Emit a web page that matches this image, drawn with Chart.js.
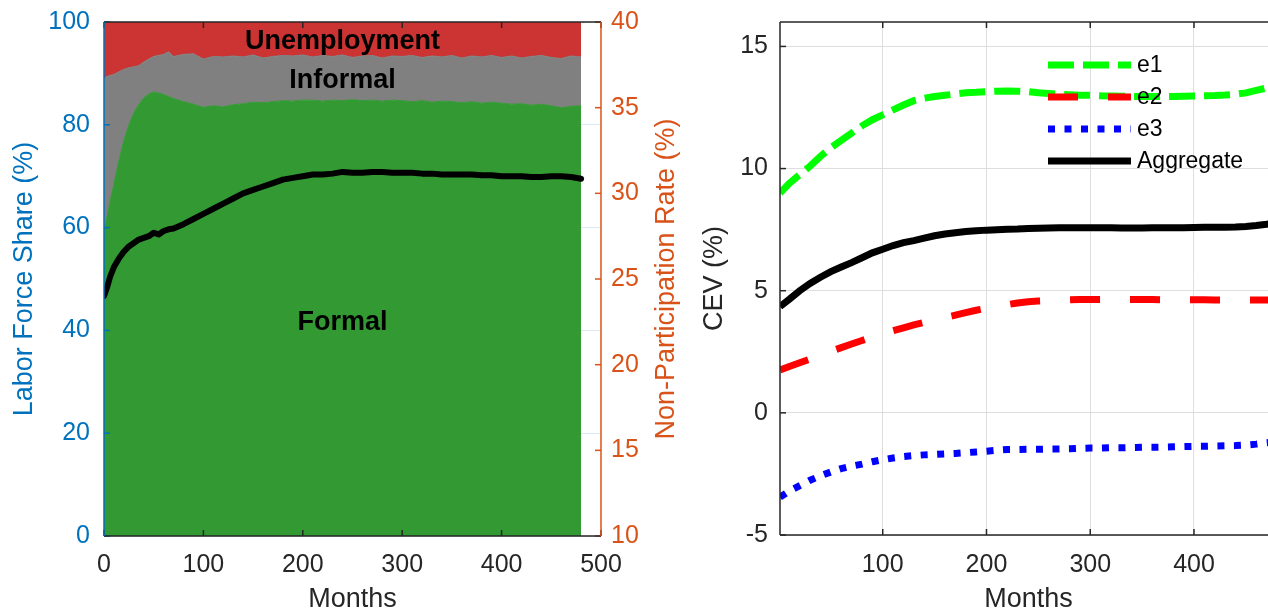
<!DOCTYPE html>
<html>
<head>
<meta charset="utf-8">
<script src="https://cdn.jsdelivr.net/npm/chart.js@4.4.1/dist/chart.umd.min.js"></script>
<style>
  html, body { margin: 0; padding: 0; background: #fff; overflow: hidden; width: 1268px; height: 610px; }
  #left { position: absolute; left: 0; top: 0; }
  #right { position: absolute; left: 690px; top: 0; }
</style>
</head>
<body>
<canvas id="left" width="690" height="620"></canvas>
<canvas id="right" width="600" height="620"></canvas>
<script>
// ---- left panel: labour force shares (%) and non-participation rate (%) by month
const leftMonths = [0, 3, 6, 10, 15, 20, 25, 30, 35, 40, 45, 50, 55, 60, 65, 70,
  80, 90, 100, 110, 120, 130, 140, 150, 160, 170, 180, 190, 200, 210, 220, 230, 240, 250,
  260, 270, 280, 290, 300, 310, 320, 330, 340, 350, 360, 370, 380, 390, 400, 410, 420,
  430, 440, 450, 460, 470, 480];
const formalShare = [59, 62, 65, 68.5, 73, 77, 80, 82.3, 84, 85.2, 86, 86.4, 86.2, 85.9, 85.5, 85.1,
  84.5, 84.0, 83.4, 83.7, 83.5, 83.9, 84.1, 84.4, 84.3, 84.5, 84.7, 84.6, 84.8, 84.8, 84.6, 84.8, 84.7, 84.9,
  84.7, 84.8, 84.6, 84.8, 84.7, 84.5, 84.7, 84.4, 84.6, 84.5, 84.3, 84.5, 84.2, 84.4, 84.2, 84.0, 84.1,
  83.8, 84.0, 83.7, 83.3, 83.6, 83.7];
const informalShare = [30.0, 27.4, 24.6, 21.3, 17.3, 13.8, 11.1, 9.0, 7.5, 7.0, 6.8, 6.9, 7.3, 7.8, 8.7, 8.2,
  9.2, 9.8, 9.4, 9.6, 9.7, 9.5, 9.1, 9.2, 8.7, 8.8, 8.8, 8.8, 8.8, 8.4, 8.9, 8.5, 8.9, 8.2,
  8.7, 8.7, 8.4, 8.6, 8.6, 9.0, 8.4, 9.0, 8.6, 9.0, 8.7, 8.9, 9.0, 9.1, 8.9, 9.4, 8.9,
  9.5, 9.5, 9.4, 9.6, 9.8, 9.5];
const unemploymentShare = [11.0, 10.6, 10.4, 10.2, 9.7, 9.2, 8.9, 8.7, 8.5, 7.8, 7.2, 6.7, 6.5, 6.3, 5.8, 6.7,
  6.3, 6.2, 7.2, 6.7, 6.8, 6.6, 6.8, 6.4, 7.0, 6.7, 6.5, 6.6, 6.4, 6.8, 6.5, 6.7, 6.4, 6.9,
  6.6, 6.5, 7.0, 6.6, 6.7, 6.5, 6.9, 6.6, 6.8, 6.5, 7.0, 6.6, 6.8, 6.5, 6.9, 6.6, 7.0,
  6.7, 6.5, 6.9, 7.1, 6.6, 6.8];
const nonParticipation = [24.0, 24.5, 25.1, 25.7, 26.2, 26.6, 26.9, 27.1, 27.3, 27.4, 27.5, 27.7, 27.6, 27.8, 27.9, 27.95,
  28.2, 28.5, 28.8, 29.1, 29.4, 29.7, 30.0, 30.2, 30.4, 30.6, 30.8, 30.9, 31.0, 31.1, 31.1, 31.15, 31.25, 31.2,
  31.2, 31.25, 31.25, 31.2, 31.2, 31.2, 31.15, 31.15, 31.1, 31.1, 31.1, 31.1, 31.05, 31.05, 31.0, 31.0, 31.0,
  30.95, 30.95, 31.0, 31.0, 30.95, 30.85];

// ---- right panel: CEV (%) by month
const cevMonths = [1, 10, 20, 30, 40, 50, 60, 70, 80, 90, 100, 110, 120, 130, 140, 150, 160, 170, 180, 190,
  200, 210, 220, 230, 240, 250, 260, 270, 280, 290, 300, 310, 320, 330, 340, 350, 360, 370, 380, 390,
  400, 410, 420, 430, 440, 450, 460, 470, 480];
const cevE1 = [9.0, 9.4, 9.75, 10.1, 10.5, 10.85, 11.15, 11.45, 11.75, 12.0,
  12.2, 12.4, 12.6, 12.78, 12.88, 12.95, 13.0, 13.05, 13.1, 13.12,
  13.15, 13.17, 13.18, 13.17, 13.15, 13.1, 13.07, 13.04, 13.02, 13.0,
  13.0, 12.98, 12.97, 12.96, 12.95, 12.95, 12.95, 12.95, 12.95, 12.96,
  12.97, 12.98, 12.99, 13.01, 13.04, 13.1, 13.2, 13.3, 13.4];
const cevE2 = [1.75, 1.9, 2.05, 2.2, 2.37, 2.52, 2.67, 2.82, 2.96, 3.1,
  3.23, 3.36, 3.48, 3.6, 3.7, 3.8, 3.9, 4.0, 4.1, 4.2,
  4.28, 4.36, 4.43, 4.5, 4.55, 4.58, 4.6, 4.62, 4.63, 4.64,
  4.64, 4.64, 4.64, 4.64, 4.64, 4.64, 4.64, 4.63, 4.63, 4.63,
  4.63, 4.63, 4.62, 4.62, 4.62, 4.62, 4.62, 4.62, 4.62];
const cevE3 = [-3.45, -3.2, -2.98, -2.76, -2.58, -2.42, -2.28, -2.18, -2.1, -2.0,
  -1.92, -1.85, -1.79, -1.75, -1.72, -1.7, -1.68, -1.66, -1.63, -1.6,
  -1.57, -1.53, -1.5, -1.5, -1.49, -1.49, -1.48, -1.48, -1.47, -1.45,
  -1.44, -1.44, -1.43, -1.43, -1.42, -1.41, -1.41, -1.4, -1.39, -1.38,
  -1.37, -1.37, -1.36, -1.35, -1.34, -1.32, -1.28, -1.22, -1.18];
const cevAggregate = [4.35, 4.65, 5.0, 5.3, 5.55, 5.78, 5.97, 6.15, 6.35, 6.55,
  6.7, 6.85, 6.97, 7.05, 7.15, 7.25, 7.32, 7.37, 7.42, 7.45,
  7.48, 7.5, 7.52, 7.53, 7.55, 7.56, 7.57, 7.58, 7.58, 7.58,
  7.58, 7.58, 7.58, 7.57, 7.57, 7.57, 7.58, 7.58, 7.58, 7.58,
  7.59, 7.6, 7.6, 7.6, 7.61, 7.63, 7.67, 7.72, 7.78];

const FONT = "'Liberation Sans', Arial, Helvetica, sans-serif";
const BLUE = '#0072BD', ORANGE = '#D95319', DARK = '#262626';

const pts = (xs, ys) => xs.map((x, i) => ({ x: x, y: ys[i] }));
const keepEvery = step => s => { s.ticks = s.ticks.filter(t => Math.abs(t.value % step) < 1e-9); };
// fixed axis sizes so the plot boxes land where the original's do
const fixWidth = w => s => { s.width = w; s.paddingTop = 0; s.paddingBottom = 0; };
const fixHeight = h => s => { s.height = h; s.paddingLeft = 0; s.paddingRight = 0; };

// matlab-style box with inward ticks, drawn over the data
function framePlugin(colors) {
  return {
    id: 'frame',
    afterDatasetsDraw(chart) {
      const { ctx, chartArea: a, scales } = chart;
      const T = 6;
      const seg = (x1, y1, x2, y2, c) => {
        ctx.strokeStyle = c;
        ctx.beginPath(); ctx.moveTo(x1, y1); ctx.lineTo(x2, y2); ctx.stroke();
      };
      ctx.save();
      ctx.lineWidth = 1.5;
      scales.x.ticks.forEach(t => {
        const p = scales.x.getPixelForValue(t.value);
        seg(p, a.bottom, p, a.bottom - T, colors.bottom);
        seg(p, a.top, p, a.top + T, colors.top);
      });
      scales.y.ticks.forEach(t => {
        const p = scales.y.getPixelForValue(t.value);
        seg(a.left, p, a.left + T, p, colors.left);
      });
      if (scales.y2) {
        scales.y2.ticks.forEach(t => {
          const p = scales.y2.getPixelForValue(t.value);
          seg(a.right, p, a.right - T, p, colors.right);
        });
      }
      seg(a.left, a.top, a.right, a.top, colors.top);
      seg(a.left, a.bottom, a.right, a.bottom, colors.bottom);
      seg(a.left, a.top, a.left, a.bottom, colors.left);
      seg(a.right, a.top, a.right, a.bottom, colors.right);
      ctx.restore();
    }
  };
}

const areaLabels = [
  { text: 'Unemployment', x: 240, y: 96.1 },
  { text: 'Informal', x: 240, y: 88.6 },
  { text: 'Formal', x: 240, y: 41.5 }
];

const leftExtras = {
  id: 'leftExtras',
  afterDatasetsDraw(chart) {
    const { ctx, scales } = chart;
    ctx.save();
    ctx.fillStyle = '#000';
    ctx.font = 'bold 27px ' + FONT;
    ctx.textAlign = 'center';
    ctx.textBaseline = 'middle';
    areaLabels.forEach(l => {
      ctx.fillText(l.text, scales.x.getPixelForValue(l.x), scales.y.getPixelForValue(l.y));
    });
    // right axis title reads bottom-to-top like the left one
    ctx.translate(667, (chart.chartArea.top + chart.chartArea.bottom) / 2);
    ctx.rotate(-Math.PI / 2);
    ctx.fillStyle = ORANGE;
    ctx.font = '27px ' + FONT;
    ctx.fillText('Non-Participation Rate (%)', 0, 0);
    ctx.restore();
  }
};

const tickFont = { family: FONT, size: 25 };
const titleFont = { family: FONT, size: 27, lineHeight: 1 };

new Chart(document.getElementById('left'), {
  type: 'line',
  data: {
    datasets: [
      { label: 'Non-Participation Rate', data: pts(leftMonths, nonParticipation), yAxisID: 'y2',
        borderColor: '#000', borderWidth: 6, borderJoinStyle: 'round', borderCapStyle: 'round', fill: false },
      { label: 'Formal', data: pts(leftMonths, formalShare), yAxisID: 'y', stack: 'lf',
        backgroundColor: '#339933', borderColor: '#339933', borderWidth: 1, fill: 'origin' },
      { label: 'Informal', data: pts(leftMonths, informalShare), yAxisID: 'y', stack: 'lf',
        backgroundColor: '#808080', borderColor: '#808080', borderWidth: 1, fill: '-1' },
      { label: 'Unemployment', data: pts(leftMonths, unemploymentShare), yAxisID: 'y', stack: 'lf',
        backgroundColor: '#CC3333', borderColor: '#CC3333', borderWidth: 1, fill: '-1' }
    ]
  },
  options: {
    responsive: false, animation: false, devicePixelRatio: 1,
    elements: { point: { radius: 0 }, line: { tension: 0 } },
    layout: { padding: { top: 22, left: 0, right: 0, bottom: 0 } },
    plugins: { legend: { display: false }, tooltip: { enabled: false } },
    scales: {
      x: {
        type: 'linear', position: 'bottom', min: 0, max: 500,
        ticks: { stepSize: 100, color: DARK, font: tickFont, padding: 14.5, maxRotation: 0 },
        grid: { display: false, drawTicks: false }, border: { display: false },
        title: { display: true, text: 'Months', color: DARK, font: titleFont, padding: { top: 0, bottom: 6.5 } },
        afterFit: fixHeight(84)
      },
      y: {
        position: 'left', stacked: true, min: 0, max: 100,
        ticks: { stepSize: 20, color: BLUE, font: tickFont, padding: 14 },
        grid: { color: 'rgba(0,114,189,0.15)', drawTicks: false }, border: { display: false },
        title: { display: true, text: 'Labor Force Share (%)', color: BLUE, font: titleFont, padding: { top: 11.5, bottom: 0 } },
        afterFit: fixWidth(104)
      },
      y2: {
        position: 'right', min: 10, max: 40,
        ticks: { stepSize: 5, color: ORANGE, font: tickFont, padding: 10 },
        grid: { display: false, drawTicks: false }, border: { display: false },
        afterFit: fixWidth(89)
      }
    }
  },
  plugins: [framePlugin({ top: DARK, bottom: DARK, left: BLUE, right: ORANGE }), leftExtras]
});

// legend inside the plot, no box
const cevLegend = {
  id: 'cevLegend',
  afterDraw(chart) {
    const ctx = chart.ctx;
    chart.data.datasets.forEach((ds, i) => {
      const y = 65 + i * 32;
      ctx.save();
      ctx.strokeStyle = ds.borderColor;
      ctx.lineWidth = ds.borderWidth;
      ctx.lineCap = 'butt';
      ctx.setLineDash(ds.borderDash || []);
      ctx.beginPath(); ctx.moveTo(358, y); ctx.lineTo(441, y); ctx.stroke();
      ctx.setLineDash([]);
      ctx.fillStyle = '#000';
      ctx.font = '23px ' + FONT;
      ctx.textAlign = 'left';
      ctx.textBaseline = 'middle';
      ctx.fillText(ds.label, 447, y + 1);
      ctx.restore();
    });
  }
};

new Chart(document.getElementById('right'), {
  type: 'line',
  data: {
    datasets: [
      { label: 'e1', data: pts(cevMonths, cevE1), borderColor: '#00FF00', borderWidth: 7, borderDash: [26, 9] },
      { label: 'e2', data: pts(cevMonths, cevE2), borderColor: '#FF0000', borderWidth: 7, borderDash: [30, 30] },
      { label: 'e3', data: pts(cevMonths, cevE3), borderColor: '#0000FF', borderWidth: 7, borderDash: [7, 9.5] },
      { label: 'Aggregate', data: pts(cevMonths, cevAggregate), borderColor: '#000000', borderWidth: 7, borderDash: [] }
    ]
  },
  options: {
    responsive: false, animation: false, devicePixelRatio: 1,
    elements: { point: { radius: 0 }, line: { tension: 0, fill: false, borderCapStyle: 'butt' } },
    layout: { padding: { top: 22, left: 0, right: 13, bottom: 0 } },
    plugins: { legend: { display: false }, tooltip: { enabled: false } },
    scales: {
      x: {
        type: 'linear', position: 'bottom', min: 1, max: 480,
        ticks: { stepSize: 100, includeBounds: false, color: DARK, font: tickFont, padding: 15.5, maxRotation: 0 },
        afterBuildTicks: keepEvery(100),
        grid: { color: '#dedede', drawTicks: false }, border: { display: false },
        title: { display: true, text: 'Months', color: DARK, font: titleFont, padding: { top: 0, bottom: 6.5 } },
        afterFit: fixHeight(85)
      },
      y: {
        position: 'left', min: -5, max: 16,
        ticks: { stepSize: 5, includeBounds: false, color: DARK, font: tickFont, padding: 12 },
        afterBuildTicks: keepEvery(5),
        grid: { color: '#dedede', drawTicks: false }, border: { display: false },
        title: { display: true, text: 'CEV (%)', color: DARK, font: titleFont, padding: { top: 11.5, bottom: 0 } },
        afterFit: fixWidth(90)
      }
    }
  },
  plugins: [framePlugin({ top: DARK, bottom: DARK, left: DARK, right: DARK }), cevLegend]
});
</script>
</body>
</html>
